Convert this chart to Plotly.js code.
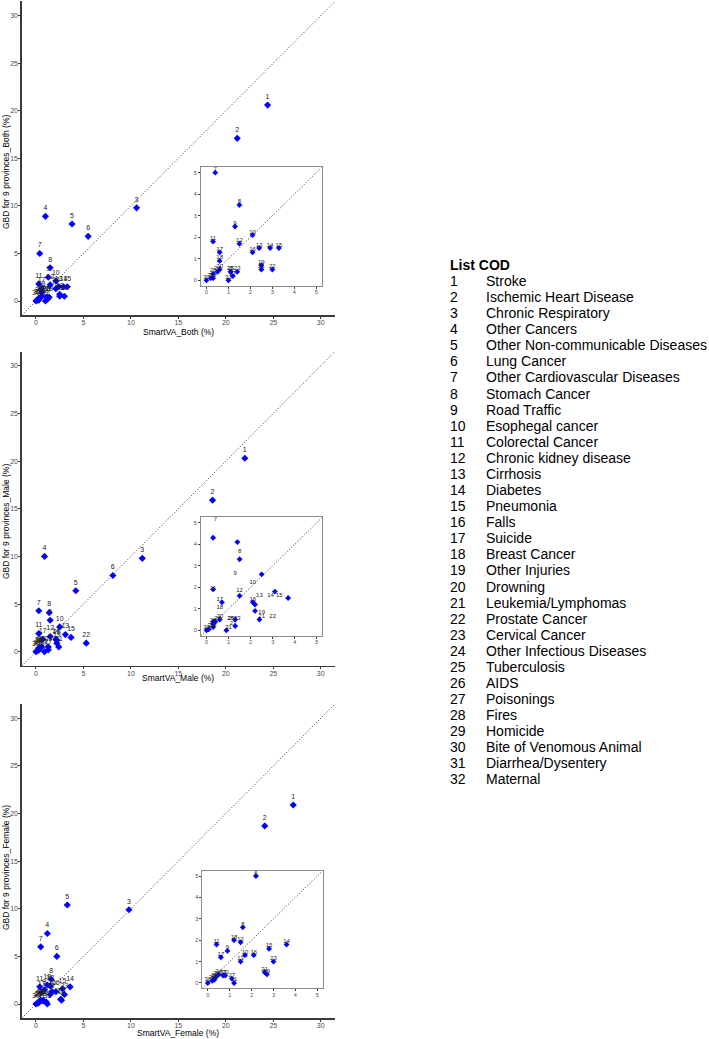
<!DOCTYPE html>
<html>
<head>
<meta charset="utf-8">
<script src="https://cdn.plot.ly/plotly-3.0.1.min.js"></script>
<style>html,body{margin:0;padding:0;background:#fff;}#chart{width:709px;height:1039px;}</style>
</head>
<body>
<div id="chart"></div>
<script>
// ---------- DATA ----------
const codIds = ["1","2","3","4","5","6","7","8","9","10","11","12","13","14","15","16","17","18","19","20","21","22","23","24","25","26","27","28","29","30","31","32"];
const codNames = ["Stroke","Ischemic Heart Disease","Chronic Respiratory","Other Cancers","Other Non-communicable Diseases","Lung Cancer","Other Cardiovascular Diseases","Stomach Cancer","Road Traffic","Esophegal cancer","Colorectal Cancer","Chronic kidney disease","Cirrhosis","Diabetes","Pneumonia","Falls","Suicide","Breast Cancer","Other Injuries","Drowning","Leukemia/Lymphomas","Prostate Cancer","Cervical Cancer","Other Infectious Diseases","Tuberculosis","AIDS","Poisonings","Fires","Homicide","Bite of Venomous Animal","Diarrhea/Dysentery","Maternal"];

// SmartVA (x) and GBD (y), percent
const smartvaBoth = [24.4,21.2,10.6,1.0,3.8,5.5,0.4,1.5,1.3,2.1,0.3,1.5,2.4,2.9,3.3,2.1,0.6,0.6,2.5,0.6,2.5,3.0,1.4,0.5,1.1,1.1,1.2,0.3,0.3,0.0,1.0,0.2];
const gbdBoth     = [20.6,17.1,9.8,8.9,8.1,6.8,5.0,3.5,2.5,2.1,1.8,1.7,1.5,1.5,1.5,1.3,1.3,0.9,0.7,0.5,0.5,0.5,0.4,0.4,0.4,0.4,0.2,0.3,0.1,0.0,0.0,0.1];

const smartvaMale = [22.0,18.6,11.2,0.9,4.2,8.1,0.3,1.4,1.5,2.5,0.3,1.5,3.1,2.1,3.7,2.2,0.7,0.1,2.2,0.6,2.4,5.3,null,0.4,1.3,0.3,1.3,0.3,0.3,0.0,0.9,null];
const gbdMale     = [20.3,15.9,9.8,10.0,6.4,8.0,4.3,4.1,3.3,2.6,1.9,1.6,1.8,1.3,1.5,1.2,1.3,0.05,0.9,0.5,0.5,0.9,null,0.4,0.5,0.4,0.2,0.3,0.15,0.0,0.0,null];

const smartvaFemale = [27.1,24.1,9.8,1.2,3.3,2.2,0.5,1.6,0.9,1.7,0.4,1.5,1.5,3.6,2.8,2.1,0.6,1.2,2.7,0.8,2.6,null,3.0,0.5,0.3,0.2,1.1,0.4,0.3,0.0,1.2,0.7];
const gbdFemale     = [20.9,18.7,9.9,7.4,10.4,5.0,6.0,2.6,1.5,1.3,1.8,1.9,1.0,1.8,1.6,1.3,1.2,2.0,0.4,0.35,0.5,null,1.0,0.4,0.2,0.1,0.2,0.3,0.15,0.0,0.0,0.35];

const mainTicks = [0,5,10,15,20,25,30];
const insetTicks = [0,1,2,3,4,5];

// ---------- LAYOUT HELPERS ----------
const W = 709, H = 1039;
const xd = (a,b) => [a/W, b/W];
const yd = (top,bot) => [1-bot/H, 1-top/H];

const panels = [
  {x: smartvaBoth, y: gbdBoth, lx: smartvaBoth, ly: gbdBoth,
   main:{x:[21.7,335],y:[1.4,315.3]}, inset:{x:[201,321.7],y:[167.3,285.7]},
   xt:'SmartVA_Both (%)', yt:'GBD for 9 provinces_Both (%)', xtY:331.5, ytY:172},
  {x: smartvaMale, y: gbdMale, lx: smartvaBoth, ly: gbdBoth,
   main:{x:[21.7,335],y:[351.5,666]}, inset:{x:[201,322.3],y:[517.3,635.7]},
   xt:'SmartVA_Male (%)', yt:'GBD for 9 provinces_Male (%)', xtY:677.5, ytY:522},
  {x: smartvaFemale, y: gbdFemale, lx: smartvaFemale, ly: gbdFemale,
   main:{x:[21.7,335],y:[704,1018.3]}, inset:{x:[202.3,322.7],y:[870.7,988.3]},
   xt:'SmartVA_Female (%)', yt:'GBD for 9 provinces_Female (%)', xtY:1032.5, ytY:868}
];

const mainRange = [-1.5, 31.5];
const insetRange = [-0.25, 5.25];
const FONT = 'Liberation Sans, Arial, sans-serif';
const BLUE = '#0000FF';
const inInset = (x, y) => x !== null && y !== null && x >= insetRange[0] && x <= insetRange[1] && y >= insetRange[0] && y <= insetRange[1];

const traces = [];
const layout = {
  width: W, height: H,
  margin: {l:0, r:0, t:0, b:0},
  paper_bgcolor: '#fff', plot_bgcolor: 'rgba(0,0,0,0)',
  showlegend: false,
  font: {family: FONT, color: '#000'},
  annotations: [], shapes: []
};

function axisCommon(range, ticks, size, isInset, isY){
  return {
    range: range, tickmode: 'array', tickvals: ticks, ticktext: ticks.map(String),
    showgrid: false, zeroline: false,
    showline: true, linecolor: isInset ? '#8c8c8c' : '#3a3a3a', linewidth: isInset ? 1 : 1.3,
    mirror: isInset ? true : false,
    ticks: 'outside', ticklen: 2, tickwidth: 1, tickcolor: '#3a3a3a',
    tickfont: {family: FONT, size: size, color: '#4d4d4d'},
    ticklabelstandoff: isInset ? (isY ? 0 : -1) : (isY ? -1 : -2),
    fixedrange: true
  };
}

const DOT = '1px,2px';

panels.forEach((p, i) => {
  const mi = 2*i+1, ii = 2*i+2;
  const mx = 'x'+(mi===1?'':mi), my = 'y'+(mi===1?'':mi);
  const ix = 'x'+ii, iy = 'y'+ii;
  const mxa = 'xaxis'+(mi===1?'':mi), mya = 'yaxis'+(mi===1?'':mi);

  layout[mxa] = Object.assign(axisCommon(mainRange, mainTicks, 7, false, false), {domain: xd(p.main.x[0], p.main.x[1]), anchor: my});
  layout[mya] = Object.assign(axisCommon(mainRange, mainTicks, 7, false, true), {domain: yd(p.main.y[0], p.main.y[1]), anchor: mx});
  layout['xaxis'+ii] = Object.assign(axisCommon(insetRange, insetTicks, 5.5, true, false), {domain: xd(p.inset.x[0], p.inset.x[1]), anchor: iy});
  layout['yaxis'+ii] = Object.assign(axisCommon(insetRange, insetTicks, 5.5, true, true), {domain: yd(p.inset.y[0], p.inset.y[1]), anchor: ix});

  // inset white background
  layout.shapes.push({type:'rect', xref: ix+' domain', yref: iy+' domain', x0:0, x1:1, y0:0, y1:1,
    fillcolor:'#fff', line:{width:0}, layer:'below'});

  // identity lines
  traces.push({type:'scatter', mode:'lines', x: mainRange, y: mainRange, xaxis: mx, yaxis: my,
    line:{color:'#333', width:1, dash: DOT}, hoverinfo:'skip'});
  traces.push({type:'scatter', mode:'lines', x: insetRange, y: insetRange, xaxis: ix, yaxis: iy,
    line:{color:'#333', width:1, dash: DOT}, hoverinfo:'skip'});

  // main points + labels
  traces.push({type:'scatter', mode:'markers+text', x: p.x, y: p.y, text: codIds, xaxis: mx, yaxis: my,
    textposition:'top center', textfont:{family: FONT, size:7, color:'#222'},
    marker:{symbol:'diamond', size:5.5, color: BLUE, line:{width:0}}, cliponaxis: true});

  // inset points (only those inside the zoomed range)
  const ipx = p.x.map((v,k) => inInset(v, p.y[k]) ? v : null);
  const ipy = p.y.map((v,k) => inInset(p.x[k], v) ? v : null);
  traces.push({type:'scatter', mode:'markers', x: ipx, y: ipy, xaxis: ix, yaxis: iy,
    marker:{symbol:'diamond', size:4.5, color: BLUE, line:{width:0}}, cliponaxis: true});
  // inset labels
  const ilx = p.lx.map((v,k) => inInset(v, p.ly[k]) ? v : null);
  const ily = p.ly.map((v,k) => inInset(p.lx[k], v) ? v : null);
  traces.push({type:'scatter', mode:'text', x: ilx, y: ily, text: codIds, xaxis: ix, yaxis: iy,
    textposition:'top center', textfont:{family: FONT, size:6, color:'#222'}, cliponaxis: true});

  // axis titles
  layout.annotations.push({xref:'paper', yref:'paper', x: (p.main.x[0]+p.main.x[1])/2/W, y: 1-p.xtY/H,
    text: p.xt, showarrow:false, xanchor:'center', yanchor:'middle', font:{family: FONT, size:8.5, color:'#000'}});
  layout.annotations.push({xref:'paper', yref:'paper', x: 6/W, y: 1-p.ytY/H, textangle:-90,
    text: p.yt, showarrow:false, xanchor:'center', yanchor:'middle', font:{family: FONT, size:8.5, color:'#000'}});
});

// ---------- LEGEND TABLE ----------
const numX = 448, nameX = 484, headY = 265, row0 = 281, rowH = 16.08;
layout.annotations.push({xref:'paper', yref:'paper', x: numX/W, y: 1-headY/H, text:'<b>List COD</b>', showarrow:false,
  xanchor:'left', yanchor:'middle', font:{family: FONT, size:14, color:'#000'}});
codIds.forEach((id, k) => {
  const yy = 1-(row0 + k*rowH)/H;
  layout.annotations.push({xref:'paper', yref:'paper', x: numX/W, y: yy, text: id, showarrow:false,
    xanchor:'left', yanchor:'middle', font:{family: FONT, size:14, color:'#000'}});
  layout.annotations.push({xref:'paper', yref:'paper', x: nameX/W, y: yy, text: codNames[k], showarrow:false,
    xanchor:'left', yanchor:'middle', font:{family: FONT, size:14, color:'#000'}});
});

Plotly.newPlot('chart', traces, layout, {displayModeBar:false, staticPlot:true});
</script>
</body>
</html>
